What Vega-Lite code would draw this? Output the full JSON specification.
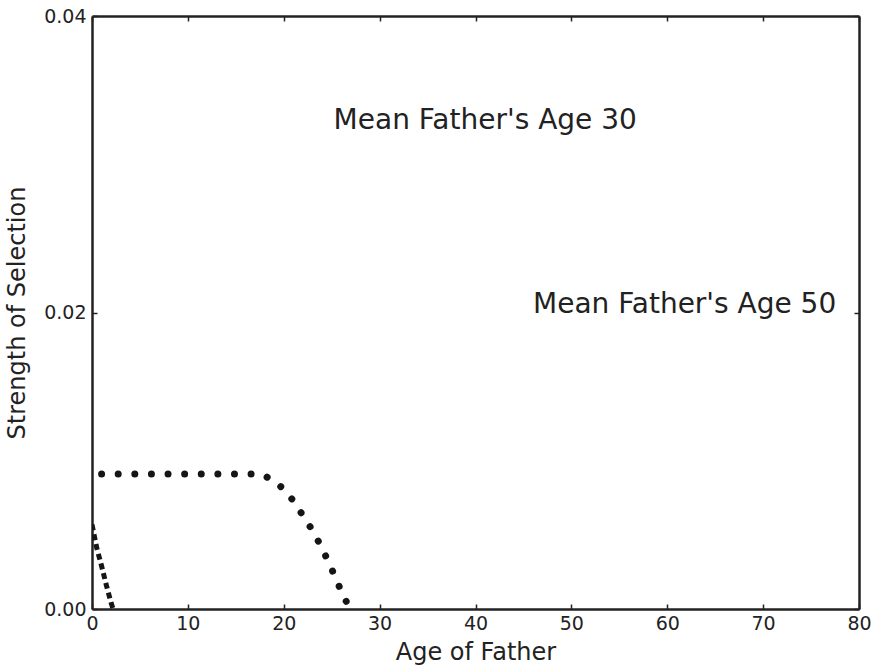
{
  "$schema": "https://vega.github.io/schema/vega-lite/v6.json",
  "autosize": "none",
  "width": 767,
  "height": 593,
  "padding": {"left": 92, "top": 16, "right": 19, "bottom": 57},
  "background": "white",
  "config": {
    "view": {"stroke": null},
    "font": "DejaVu Sans",
    "axis": {
      "grid": false,
      "domainColor": "#222222",
      "domainWidth": 2.5,
      "tickColor": "#222222",
      "tickWidth": 1.5,
      "tickSize": -5,
      "labelFlush": false,
      "labelOverlap": false,
      "labelFont": "DejaVu Sans",
      "labelFontSize": 19,
      "labelColor": "#222222",
      "titleFont": "DejaVu Sans",
      "titleFontSize": 24,
      "titleFontWeight": "normal",
      "titleColor": "#222222"
    }
  },
  "datasets": {
    "curves": [
      {"age": 1, "strength": 0.0091, "series": "mean30"},
      {"age": 2, "strength": 0.0091, "series": "mean30"},
      {"age": 3, "strength": 0.0091, "series": "mean30"},
      {"age": 4, "strength": 0.0091, "series": "mean30"},
      {"age": 5, "strength": 0.0091, "series": "mean30"},
      {"age": 6, "strength": 0.0091, "series": "mean30"},
      {"age": 7, "strength": 0.0091, "series": "mean30"},
      {"age": 8, "strength": 0.0091, "series": "mean30"},
      {"age": 9, "strength": 0.0091, "series": "mean30"},
      {"age": 10, "strength": 0.0091, "series": "mean30"},
      {"age": 11, "strength": 0.0091, "series": "mean30"},
      {"age": 12, "strength": 0.0091, "series": "mean30"},
      {"age": 13, "strength": 0.0091, "series": "mean30"},
      {"age": 14, "strength": 0.0091, "series": "mean30"},
      {"age": 15, "strength": 0.0091, "series": "mean30"},
      {"age": 16, "strength": 0.0091, "series": "mean30"},
      {"age": 17, "strength": 0.0091, "series": "mean30"},
      {"age": 18, "strength": 0.0090, "series": "mean30"},
      {"age": 19, "strength": 0.0086, "series": "mean30"},
      {"age": 20, "strength": 0.0081, "series": "mean30"},
      {"age": 21, "strength": 0.0073, "series": "mean30"},
      {"age": 22, "strength": 0.0063, "series": "mean30"},
      {"age": 23, "strength": 0.0053, "series": "mean30"},
      {"age": 24, "strength": 0.0041, "series": "mean30"},
      {"age": 25, "strength": 0.0027, "series": "mean30"},
      {"age": 26, "strength": 0.0012, "series": "mean30"},
      {"age": 26.9, "strength": 0.0, "series": "mean30"},
      {"age": 0, "strength": 0.0057, "series": "mean50"},
      {"age": 0.5, "strength": 0.0041, "series": "mean50"},
      {"age": 1, "strength": 0.0029, "series": "mean50"},
      {"age": 1.5, "strength": 0.0016, "series": "mean50"},
      {"age": 2, "strength": 0.0004, "series": "mean50"},
      {"age": 2.2, "strength": 0.0, "series": "mean50"}
    ],
    "labels": [
      {"age": 25.2, "strength": 0.0324, "label": "Mean Father's Age 30"},
      {"age": 46.0, "strength": 0.02, "label": "Mean Father's Age 50"}
    ]
  },
  "layer": [
    {
      "data": {"name": "curves"},
      "transform": [{"filter": "datum.series === 'mean30'"}],
      "mark": {"type": "line", "color": "#151515", "strokeWidth": 7, "strokeCap": "round", "strokeDash": [0.01, 16.6], "clip": true},
      "encoding": {
        "x": {"field": "age", "type": "quantitative", "scale": {"domain": [0, 80], "nice": false},
              "axis": {"orient": "bottom", "title": "Age of Father", "values": [0, 10, 20, 30, 40, 50, 60, 70, 80], "labelPadding": 10, "titlePadding": 7}},
        "y": {"field": "strength", "type": "quantitative", "scale": {"domain": [0, 0.04], "nice": false, "zero": false},
              "axis": {"orient": "left", "title": "Strength of Selection", "values": [0, 0.02, 0.04], "format": ".2f", "labelPadding": 11, "titlePadding": 14}}
      }
    },
    {
      "data": {"name": "curves"},
      "transform": [{"filter": "datum.series === 'mean50'"}],
      "mark": {"type": "line", "color": "#151515", "strokeWidth": 5, "strokeCap": "butt", "strokeDash": [6, 4], "clip": true},
      "encoding": {
        "x": {"field": "age", "type": "quantitative",
              "axis": {"orient": "top", "title": null, "labels": false, "values": [0, 10, 20, 30, 40, 50, 60, 70, 80]}},
        "y": {"field": "strength", "type": "quantitative",
              "axis": {"orient": "right", "title": null, "labels": false, "values": [0, 0.02, 0.04]}}
      }
    },
    {
      "data": {"name": "labels"},
      "mark": {"type": "text", "align": "left", "baseline": "alphabetic", "fontSize": 28, "font": "DejaVu Sans", "color": "#222222"},
      "encoding": {
        "x": {"field": "age", "type": "quantitative", "axis": null},
        "y": {"field": "strength", "type": "quantitative", "axis": null},
        "text": {"field": "label"}
      }
    }
  ],
  "resolve": {"axis": {"x": "independent", "y": "independent"}}
}
